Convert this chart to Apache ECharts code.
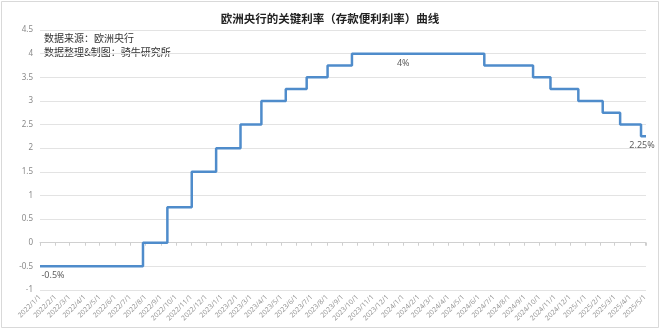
<!DOCTYPE html>
<html><head><meta charset="utf-8">
<script src="https://cdn.jsdelivr.net/npm/echarts@6/dist/echarts.min.js"></script>
<style>html,body{margin:0;padding:0;background:#fff}#c{width:660px;height:329px}</style>
</head><body><div id="c"></div>
<script>
// ECB deposit facility rate: change dates and new values
const changeDates = ['2022/1/1','2022/7/27','2022/9/14','2022/11/2','2022/12/21','2023/2/8','2023/3/22','2023/5/10','2023/6/21','2023/8/2','2023/9/20','2024/6/12','2024/9/18','2024/10/23','2024/12/18','2025/2/5','2025/3/12','2025/4/23','2025/5/3'];
const rateValues = [-0.5, 0, 0.75, 1.5, 2, 2.5, 3, 3.25, 3.5, 3.75, 4, 3.75, 3.5, 3.25, 3, 2.75, 2.5, 2.25, 2.25];
const labelDates = ['2022/1/1','2024/1/1','2025/5/3'];
const labelValues = [-0.5, 4, 2.25];
const labelTexts = ['-0.5%','4%','2.25%'];
const axisStart = '2022/1/1';
const axisEnd = '2025/5/3';
const yTicks = [-1,-0.5,0,0.5,1,1.5,2,2.5,3,3.5,4,4.5];

function ts(s){const p=s.split('/').map(Number);return new Date(p[0],p[1]-1,p[2]).getTime();}
const lineData = changeDates.map((d,i)=>[ts(d), rateValues[i]]);
const labelOffsets = [[13,0],[0,0],[-4,0]];
const lblData = labelDates.map((d,i)=>({value:[ts(d),labelValues[i]], label:{formatter:labelTexts[i], offset:labelOffsets[i]}}));
const DAY=86400000;
const chart = echarts.init(document.getElementById('c'),null,{renderer:'canvas'});
chart.setOption({
  animation:false,
  backgroundColor:'#fff',
  title:{text:'欧洲央行的关键利率（存款便利利率）曲线',left:'center',top:8,
    textStyle:{fontFamily:'Noto Sans CJK SC',fontSize:11.5,fontWeight:'bold',color:'#222'}},
  graphic:[
    {type:'rect',shape:{x:1.5,y:1.5,width:657,height:326},style:{fill:'none',stroke:'#d9d9d9',lineWidth:1},silent:true},
    {type:'text',left:44,top:31,style:{text:'数据来源：欧洲央行\n数据整理&制图：骑牛研究所',font:'10px "Noto Sans CJK SC"',fill:'#333',lineHeight:14}}
  ],
  grid:{left:40,right:14,top:30,bottom:39},
  xAxis:[{
    type:'time',min:ts(axisStart),max:ts(axisEnd),
    minInterval:28*DAY,maxInterval:31*DAY,
    axisLine:{show:false,onZero:false},axisTick:{show:false},splitLine:{show:false},
    axisLabel:{rotate:45,fontSize:7,color:'#999',fontFamily:'Noto Sans',margin:6,hideOverlap:false,showMinLabel:true,showMaxLabel:false,
      formatter:function(v){const d=new Date(v);return d.getFullYear()+'/'+(d.getMonth()+1)+'/'+d.getDate();}}
  },{
    type:'time',min:ts(axisStart),max:ts(axisEnd),position:'bottom',
    minInterval:28*DAY,maxInterval:31*DAY,
    axisLine:{show:true,onZero:true,lineStyle:{color:'#d0d0d0',width:1}},
    axisTick:{show:true,length:3,lineStyle:{color:'#cfcfcf'}},
    axisLabel:{show:false},splitLine:{show:false}
  }],
  yAxis:{type:'value',min:yTicks[0],max:yTicks[yTicks.length-1],interval:0.5,
    axisLine:{show:false},axisTick:{show:false},
    splitLine:{lineStyle:{color:'#e3e3e3',width:1}},
    axisLabel:{fontSize:8,color:'#888',fontFamily:'Noto Sans',margin:7}},
  series:[{
    type:'line',xAxisIndex:0,step:'end',data:lineData,showSymbol:false,symbol:'none',
    lineStyle:{color:'#4f8ccb',width:2.5}
  },{
    type:'scatter',xAxisIndex:0,data:lblData,symbolSize:0,
    label:{show:true,position:'bottom',distance:5,fontSize:9,color:'#333',fontFamily:'Noto Sans'}
  }]
});
</script></body></html>
